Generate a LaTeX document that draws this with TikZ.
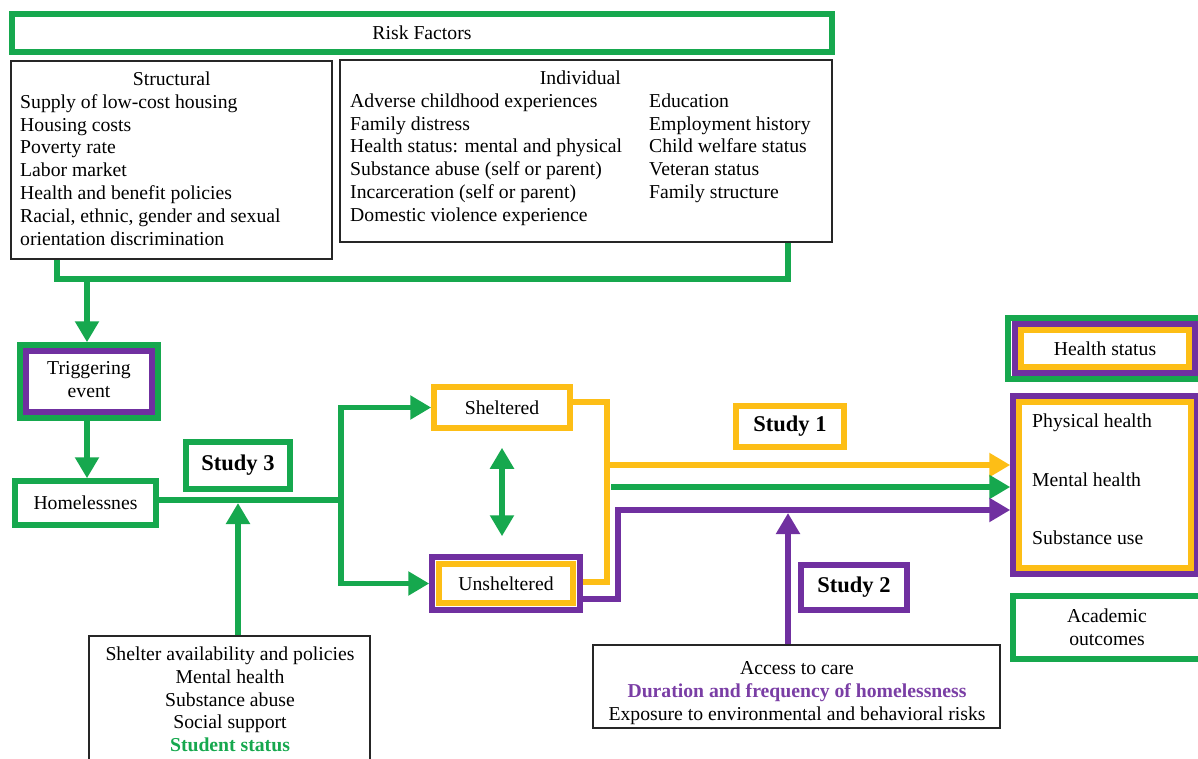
\documentclass[tikz,border=0pt]{standalone}
\usepackage{fontspec}
\setmainfont{Liberation Serif}
\usetikzlibrary{arrows.meta,calc}
\definecolor{G}{RGB}{22,168,78}
\definecolor{Y}{RGB}{253,190,22}
\definecolor{P}{RGB}{112,48,160}
\definecolor{PT}{RGB}{122,62,165}
\begin{document}
\begin{tikzpicture}[x=1pt,y=-1pt,
  every node/.style={inner sep=0pt, font=\fontsize{19.7}{22.9}\selectfont},
  gbox/.style={draw=G, line width=5.5pt},
  ybox/.style={draw=Y, line width=5.5pt},
  pbox/.style={draw=P, line width=5.5pt},
  kbox/.style={draw=black!85, line width=1.3pt},
  studyfont/.style={font=\bfseries\fontsize{22.5}{26}\selectfont},
  gline/.style={draw=G, line width=5.5pt},
  yline/.style={draw=Y, line width=5.5pt},
  pline/.style={draw=P, line width=5.5pt},
  garrow/.style={gline, -{Triangle[length=21pt,width=23pt]}},
  yarrow/.style={yline, -{Triangle[length=21pt,width=23pt]}},
  parrow/.style={pline, -{Triangle[length=21pt,width=23pt]}},
  gdouble/.style={gline, {Triangle[length=21pt,width=23pt]}-{Triangle[length=21pt,width=23pt]}}
]
\useasboundingbox (0,0) rectangle (1198,759);
\clip (0,0) rectangle (1198,759);

% ---------- Risk factors ----------
\node[gbox, minimum width=820pt, minimum height=38pt] (risk) at (422,33) {\raisebox{-2pt}{Risk Factors}};
\node[kbox, minimum width=321pt, minimum height=198pt] (struct) at (171.5,160) {};
\node[anchor=north west] (structtext) at (20,69) {%
  \begin{tabular}{@{}l@{}}
  \makebox[303pt]{Structural}\\
  Supply of low-cost housing\\
  Housing costs\\
  Poverty rate\\
  Labor market\\
  Health and benefit policies\\
  Racial, ethnic, gender and sexual\\
  orientation discrimination
  \end{tabular}};
\node[kbox, minimum width=492pt, minimum height=182pt] (indiv) at (586,151) {};
\node[anchor=north west] (indivtext) at (350,68) {%
  \begin{tabular}{@{}p{299pt}@{}l@{}}
  \multicolumn{2}{c}{Individual}\\
  Adverse childhood experiences & Education\\
  Family distress & Employment history\\
  Health status: mental and physical & Child welfare status\\
  Substance abuse (self or parent) & Veteran status\\
  Incarceration (self or parent) & Family structure\\
  Domestic violence experience &
  \end{tabular}};

% ---------- left column ----------
\node[gbox, minimum width=138pt, minimum height=73pt] (trig) at (89,381.5) {};
\node[pbox, minimum width=126pt, minimum height=61pt, align=center] (trigin) at (89,381.5) {\raisebox{-3pt}{\begin{tabular}{@{}c@{}}Triggering\\event\end{tabular}}};
\node[gbox, minimum width=141pt, minimum height=44pt] (homeless) at (85.5,503) {Homelessnes};
\node[gbox, studyfont, minimum width=104pt, minimum height=47pt] (study3) at (238,465.5) {Study 3};

% ---------- shelter ----------
\node[ybox, minimum width=136pt, minimum height=41pt] (shelt) at (502,407.5) {Sheltered};
\node[pbox, minimum width=148pt, minimum height=53pt] (unshelt) at (506,583.5) {};
\node[ybox, minimum width=134pt, minimum height=39pt] (unsheltin) at (506,583.5) {Unsheltered};

\node[ybox, studyfont, minimum width=108pt, minimum height=41pt] (study1) at (790,426.5) {Study 1};
\node[pbox, studyfont, minimum width=106pt, minimum height=45pt] (study2) at (854,587.5) {Study 2};

% ---------- outcomes ----------
\node[gbox, minimum width=193pt, minimum height=61pt] (hsout) at (1104.5,348.5) {};
\node[pbox, minimum width=180pt, minimum height=49pt] (hsmid) at (1105,348.5) {};
\node[ybox, minimum width=168pt, minimum height=37pt] (hsin) at (1105,348.5) {Health status};

\node[pbox, minimum width=184pt, minimum height=178pt] (outcomes) at (1105,485) {};
\node[ybox, minimum width=172pt, minimum height=166pt] (outcomesin) at (1105,485) {};
\node[anchor=west] (phys) at (1032,423) {Physical health};
\node[anchor=west] (mental) at (1032,480) {Mental health};
\node[anchor=west] (subst) at (1032,538) {Substance use};

\node[gbox, minimum width=188pt, minimum height=63pt, align=center] (acad) at (1107,627.5) {Academic\\outcomes};

% ---------- bottom boxes ----------
\node[kbox, minimum width=281pt, minimum height=144pt] (shelterf) at (229.5,708) {};
\node[anchor=north] (shelterftext) at (230,644) {%
  \begin{tabular}{@{}c@{}}
  Shelter availability and policies\\
  Mental health\\
  Substance abuse\\
  Social support\\
  \textcolor{G}{\bfseries Student status}
  \end{tabular}};
\node[kbox, minimum width=407pt, minimum height=83pt] (access) at (796.5,686.5) {};
\node[anchor=north] (accesstext) at (797,658) {%
  \begin{tabular}{@{}c@{}}
  Access to care\\
  \textcolor{PT}{\bfseries Duration and frequency of homelessness}\\
  Exposure to environmental and behavioral risks
  \end{tabular}};

% ---------- connectors ----------
\coordinate (j1) at (57,279);
\coordinate (j2) at (788,279);
\coordinate (j3) at (87,279);
\draw[gline, line join=miter] (j1 |- struct.south) -- (j1) -- (j2) -- (j2 |- indiv.south);
\draw[garrow] (j3) -- (j3 |- trig.north);
\draw[garrow] (trig.south -| j3) -- (j3 |- homeless.north);

\coordinate (br) at (341,500);
\draw[gline] (homeless.east |- br) -- ([xshift=2.75pt]br);
\draw[garrow, line join=miter] (br) |- (shelt.west);
\draw[garrow, line join=miter] (br) |- (unshelt.west);
\draw[gdouble] ([yshift=-17pt]shelt.south) -- ([yshift=18pt]unshelt.north -| shelt.south);

\coordinate (gu) at (238,503);
\draw[garrow] (gu |- shelterf.north) -- (gu);

\coordinate (yv) at (607,402);
\coordinate (yb) at (607,582);
\draw[yline, line join=miter] (shelt.east |- yv) -- (yv) -- (yb) -- (yb -| unshelt.east);
\coordinate (ya) at (607,465);
\draw[yarrow] (ya) -- (ya -| outcomes.west);
\coordinate (ga) at (611,487);
\draw[garrow] (ga) -- (ga -| outcomes.west);
\coordinate (pv) at (618,599);
\coordinate (pa) at (618,510);
\draw[pline, line join=miter] (pv -| unshelt.east) -- (pv) -- ([yshift=-2.75pt]pa);
\draw[parrow] ([xshift=-2.75pt]pa) -- (pa -| outcomes.west);
\coordinate (pu) at (788,513);
\draw[parrow] (pu |- access.north) -- (pu);
\end{tikzpicture}
\end{document}
